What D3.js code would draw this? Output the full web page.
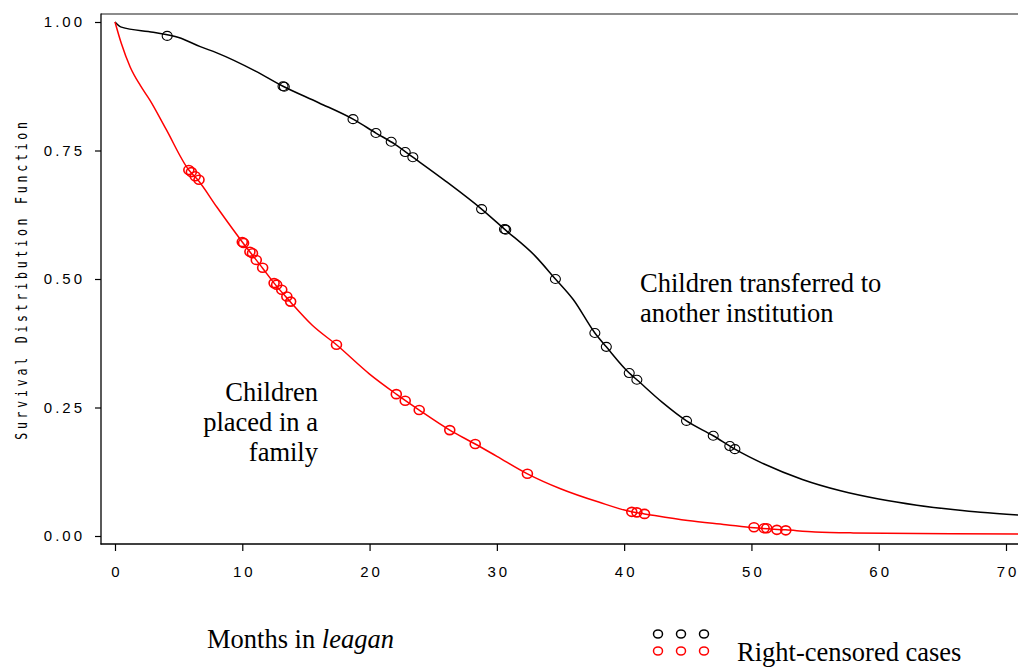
<!DOCTYPE html>
<html>
<head>
<meta charset="utf-8">
<script src="https://cdn.jsdelivr.net/npm/d3@7"></script>
<style>
  body { margin: 0; background: #fff; }
  svg { display: block; }
  .tick text { font-family: "Liberation Sans", Arial, sans-serif; font-size: 15px; letter-spacing: 3px; fill: #000; }
  .serif { font-family: "Liberation Serif", "Times New Roman", serif; font-size: 26.5px; fill: #000; }
</style>
</head>
<body>
<svg id="chart" width="1018" height="668"></svg>
<script>
// survival curve, children transferred to another institution (months, S)
var transferT = [0, 0.5, 3, 5, 6.7, 8, 11, 13.2, 16, 18.7, 20.5, 22, 23.4, 26, 28.8, 30.6, 33, 34.6, 36, 37.7, 38.6, 40.4, 41.0, 43, 44.9, 47, 48.7, 51, 54, 57, 60, 63, 66, 68, 71.5];
var transferS = [1.00, 0.99, 0.98, 0.97, 0.952, 0.94, 0.905, 0.875, 0.843, 0.811, 0.784, 0.762, 0.737, 0.69, 0.636, 0.597, 0.545, 0.50, 0.46, 0.395, 0.368, 0.317, 0.304, 0.26, 0.224, 0.195, 0.169, 0.14, 0.11, 0.088, 0.072, 0.06, 0.051, 0.046, 0.04];

// survival curve, children placed in a family
var familyT = [0, 0.5, 1.2, 2, 2.74, 4, 5.8, 6.5, 8, 10, 11.6, 12.5, 13.8, 15.5, 17.4, 20, 22.1, 23.9, 26.3, 28.3, 30, 32.4, 35, 38, 40.6, 41.6, 45, 48, 50.2, 52.7, 55, 58, 63, 71.5];
var familyS = [1.0, 0.958, 0.912, 0.876, 0.848, 0.792, 0.712, 0.693, 0.64, 0.572, 0.521, 0.492, 0.455, 0.41, 0.372, 0.315, 0.276, 0.245, 0.206, 0.179, 0.155, 0.121, 0.092, 0.066, 0.047, 0.043, 0.03, 0.022, 0.016, 0.012, 0.008, 0.006, 0.005, 0.004];

// right-censored cases
var transferCensT = [4.1, 13.2, 13.3, 18.7, 20.5, 21.7, 22.8, 23.4, 28.8, 30.6, 30.7, 34.6, 37.7, 38.6, 40.4, 41.0, 44.9, 47.0, 48.3, 48.7];
var transferCensS = [0.973, 0.875, 0.874, 0.811, 0.784, 0.767, 0.747, 0.737, 0.636, 0.597, 0.596, 0.50, 0.395, 0.368, 0.317, 0.304, 0.224, 0.195, 0.175, 0.169];
var familyCensT = [5.8, 6.0, 6.3, 6.6, 10.0, 10.1, 10.6, 10.8, 11.1, 11.6, 12.5, 12.7, 13.1, 13.5, 13.8, 17.4, 22.1, 22.8, 23.9, 26.3, 28.3, 32.4, 40.6, 41.0, 41.6, 50.2, 51.0, 51.2, 52.0, 52.7];
var familyCensS = [0.712, 0.708, 0.700, 0.693, 0.572, 0.570, 0.553, 0.550, 0.537, 0.522, 0.492, 0.489, 0.479, 0.466, 0.456, 0.372, 0.276, 0.263, 0.245, 0.206, 0.179, 0.121, 0.047, 0.046, 0.043, 0.017, 0.015, 0.015, 0.012, 0.011];

var xTicks = [0, 10, 20, 30, 40, 50, 60, 70];
var yTicks = [0, 0.25, 0.5, 0.75, 1];

var svg = d3.select("#chart");
var x = d3.scaleLinear().domain([0, 70]).range([115, 1006]);
var y = d3.scaleLinear().domain([0, 1]).range([536, 22]);

svg.append("defs").append("clipPath").attr("id", "clip")
  .append("rect").attr("x", 102).attr("y", 0).attr("width", 916).attr("height", 543);

// frame
svg.append("line").attr("x1", 101).attr("x2", 1018).attr("y1", 14).attr("y2", 14)
  .attr("stroke", "#666").attr("stroke-width", 1.6);
svg.append("line").attr("x1", 101).attr("x2", 101).attr("y1", 13.5).attr("y2", 544.5)
  .attr("stroke", "#000").attr("stroke-width", 1.3);
svg.append("line").attr("x1", 100.5).attr("x2", 1018).attr("y1", 544).attr("y2", 544)
  .attr("stroke", "#000").attr("stroke-width", 1.3);

// y axis
var yAxis = svg.append("g").attr("transform", "translate(101,0)")
  .call(d3.axisLeft(y).tickValues(yTicks).tickFormat(d3.format(".2f")).tickSize(6).tickPadding(10));
yAxis.select(".domain").remove();
yAxis.selectAll(".tick line").attr("stroke", "#000").attr("stroke-width", 1.2);

// x axis
var xAxis = svg.append("g").attr("transform", "translate(0,544)")
  .call(d3.axisBottom(x).tickValues(xTicks).tickSize(7).tickPadding(15));
xAxis.select(".domain").remove();
xAxis.selectAll(".tick line").attr("stroke", "#000").attr("stroke-width", 1.2);
xAxis.selectAll(".tick text").attr("dx", "1.5px");

// y label
svg.append("text")
  .attr("transform", "translate(27,279) rotate(-90) scale(1,1.35)")
  .attr("text-anchor", "middle")
  .style("font-family", "'DejaVu Sans Mono', monospace")
  .style("font-size", "11.5px")
  .style("letter-spacing", "3.8px")
  .text("Survival Distribution Function");

var line = d3.line().curve(d3.curveMonotoneX)
  .x(function(d) { return x(d[0]); }).y(function(d) { return y(d[1]); });
var plot = svg.append("g").attr("clip-path", "url(#clip)");

function curve(ts, ss, color) {
  var pts = ts.map(function(t, i) { return [t, ss[i]]; });
  plot.append("path").datum(pts).attr("d", line)
    .attr("fill", "none").attr("stroke", color).attr("stroke-width", 1.5);
}
curve(transferT, transferS, "#000");
curve(familyT, familyS, "#ff0000");

function censored(ts, ss, color, w) {
  plot.selectAll(null).data(ts).enter().append("ellipse")
    .attr("cx", function(d) { return x(d); })
    .attr("cy", function(d, i) { return y(ss[i]); })
    .attr("rx", 5).attr("ry", 4.5)
    .attr("fill", "none").attr("stroke", color).attr("stroke-width", w);
}
censored(transferCensT, transferCensS, "#000", 1.1);
censored(familyCensT, familyCensS, "#ff0000", 1.6);

// annotations
var a1 = svg.append("text").attr("class", "serif").attr("x", 640);
a1.append("tspan").attr("x", 640).attr("y", 292).text("Children transferred to");
a1.append("tspan").attr("x", 640).attr("y", 322).text("another institution");

var a2 = svg.append("text").attr("class", "serif").attr("text-anchor", "end");
a2.append("tspan").attr("x", 318).attr("y", 401).text("Children");
a2.append("tspan").attr("x", 318).attr("y", 431).text("placed in a");
a2.append("tspan").attr("x", 318).attr("y", 461).text("family");

var xl = svg.append("text").attr("class", "serif").attr("x", 207).attr("y", 648);
xl.append("tspan").text("Months in ");
xl.append("tspan").style("font-style", "italic").text("leagan");

// legend
var legendX = [658, 681, 704];
svg.selectAll(null).data(legendX).enter().append("ellipse")
  .attr("cx", function(d) { return d; }).attr("cy", 634).attr("rx", 4.5).attr("ry", 4)
  .attr("fill", "none").attr("stroke", "#000").attr("stroke-width", 1.5);
svg.selectAll(null).data(legendX).enter().append("ellipse")
  .attr("cx", function(d) { return d; }).attr("cy", 651).attr("rx", 4.5).attr("ry", 4)
  .attr("fill", "none").attr("stroke", "#ff0000").attr("stroke-width", 1.5);
svg.append("text").attr("class", "serif").attr("x", 737).attr("y", 661).text("Right-censored cases");
</script>
</body>
</html>
